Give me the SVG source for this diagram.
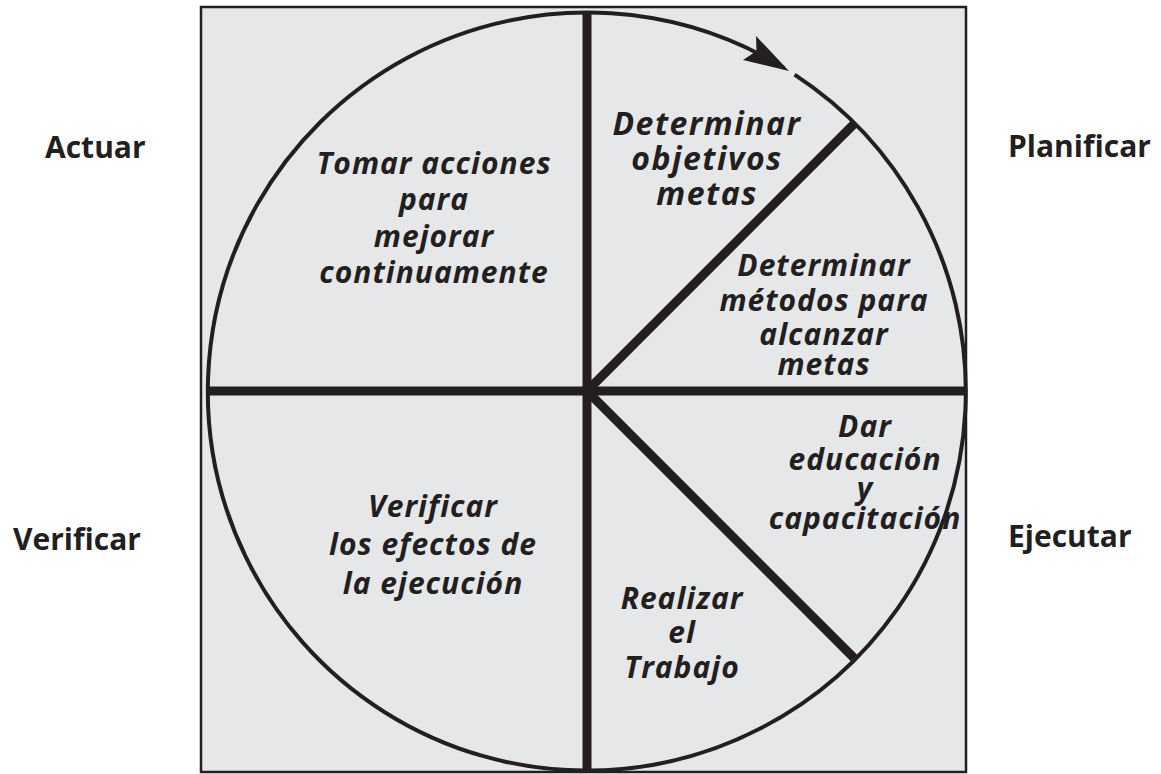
<svg xmlns="http://www.w3.org/2000/svg" width="1161" height="774" viewBox="0 0 1161 774">
<style>
.lbl{font-family:"Open Sans","Noto Sans",sans-serif;font-weight:700;font-size:30px;fill:#231f20}
.in{font-family:"Open Sans","Noto Sans",sans-serif;font-weight:700;font-style:italic;font-size:30px;letter-spacing:1px;fill:#231f20;text-anchor:middle}
.big{font-size:32px;letter-spacing:1.5px}
.ln{stroke:#231f20;stroke-width:9;fill:none}
</style>
<rect width="1161" height="774" fill="#ffffff"/>
<rect id="frame" x="201" y="7" width="765" height="765" fill="#e6e7e8" stroke="#231f20" stroke-width="2.5"/>
<g id="connectors">
<path d="M 794.6 74.6 A 379 379 0 1 1 784.0 67.9" fill="none" stroke="#231f20" stroke-width="4"/>
<polygon points="789,71 743,60 756.5,51 756,36" fill="#231f20"/>
<line class="ln" x1="587" y1="12" x2="587" y2="770"/>
<line class="ln" x1="207" y1="391" x2="965" y2="391"/>
<line class="ln" x1="587" y1="391" x2="854" y2="124"/>
<line class="ln" x1="587" y1="391" x2="854" y2="658"/>
</g>
<g id="actuar"><text class="lbl" x="45" y="158">Actuar</text></g>
<g id="planificar"><text class="lbl" x="1008" y="157">Planificar</text></g>
<g id="verificar"><text class="lbl" x="13" y="550">Verificar</text></g>
<g id="ejecutar"><text class="lbl" x="1008" y="547">Ejecutar</text></g>
<g id="tomar"><text class="in" x="434" y="174">Tomar acciones</text><text class="in" x="434" y="210">para</text><text class="in" x="434" y="247">mejorar</text><text class="in" x="434" y="283">continuamente</text></g>
<g id="objetivos"><text class="in big" x="707" y="135">Determinar</text><text class="in big" x="707" y="170">objetivos</text><text class="in big" x="707" y="205">metas</text></g>
<g id="metodos"><text class="in" x="824" y="276">Determinar</text><text class="in" x="824" y="311">métodos para</text><text class="in" x="824" y="345">alcanzar</text><text class="in" x="824" y="375">metas</text></g>
<g id="educacion"><text class="in" x="865" y="437">Dar</text><text class="in" x="865" y="470">educación</text><text class="in" x="865" y="499">y</text><text class="in" x="865" y="529">capacitación</text></g>
<g id="realizar"><text class="in" x="682" y="609">Realizar</text><text class="in" x="682" y="643">el</text><text class="in" x="682" y="678">Trabajo</text></g>
<g id="verificarEfectos"><text class="in" x="433" y="517">Verificar</text><text class="in" x="433" y="555">los efectos de</text><text class="in" x="433" y="594">la ejecución</text></g>
</svg>
